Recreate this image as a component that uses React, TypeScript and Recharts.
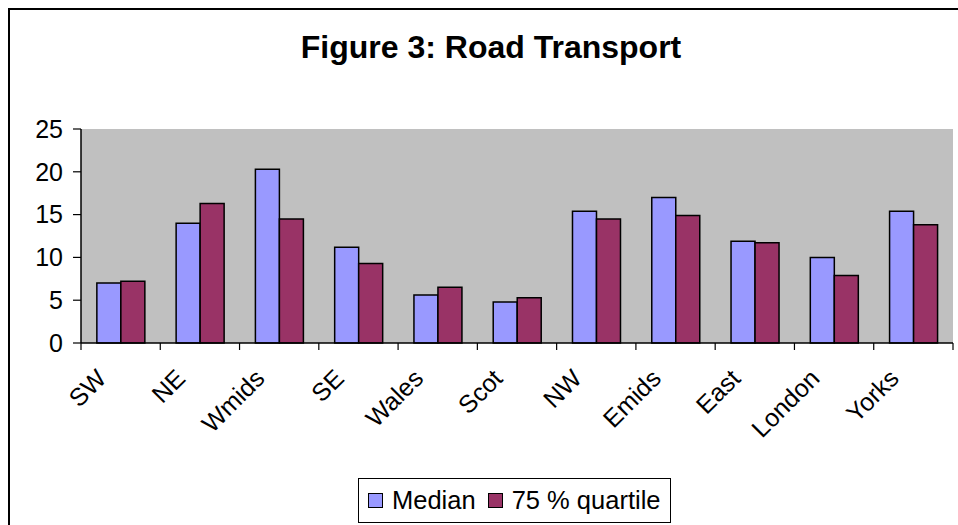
import React from 'react';
import { BarChart, Bar, XAxis, YAxis, CartesianGrid } from 'recharts';

const categories = ['SW', 'NE', 'Wmids', 'SE', 'Wales', 'Scot', 'NW', 'Emids', 'East', 'London', 'Yorks'];
const medianValues = [7.0, 14.0, 20.3, 11.2, 5.6, 4.8, 15.4, 17.0, 11.9, 10.0, 15.4];
const quartileValues = [7.2, 16.3, 14.5, 9.3, 6.5, 5.3, 14.5, 14.9, 11.7, 7.9, 13.8];
const yTicks = [0, 5, 10, 15, 20, 25];
const seriesNames = ['Median', '75 % quartile'];
const seriesColors = ['#9999FF', '#993366'];
const titleText = 'Figure 3: Road Transport';

const data = categories.map((c, i) => ({ name: c, median: medianValues[i], q75: quartileValues[i] }));

const FONT = '"Liberation Sans", Arial, Helvetica, sans-serif';

const XTick = (props: any) => {
  const { x, y, payload, index } = props;
  const half = payload && typeof payload.offset === 'number' && payload.offset > 0 ? payload.offset : 872 / 22;
  const lx = x - 13;
  const ly = y + 30;
  return (
    <g>
      <line x1={x - half} x2={x - half} y1={y - 7} y2={y} stroke="#000" strokeWidth={1.2} />
      {index === categories.length - 1 && (
        <line x1={x + half} x2={x + half} y1={y - 7} y2={y} stroke="#000" strokeWidth={1.2} />
      )}
      <text
        x={lx}
        y={ly}
        textAnchor="end"
        fontFamily={FONT}
        fontSize={25}
        fill="#000"
        transform={`rotate(-45, ${lx}, ${ly})`}
      >
        {payload.value}
      </text>
    </g>
  );
};

export default function App() {
  return (
    <div
      style={{
        position: 'absolute',
        left: 0,
        top: 0,
        width: 958,
        height: 525,
        overflow: 'hidden',
        background: '#fff',
        fontFamily: FONT,
      }}
    >
      <div
        style={{
          position: 'absolute',
          left: 8,
          top: 8,
          width: 1200,
          height: 800,
          border: '2px solid #000',
          boxSizing: 'border-box',
        }}
      />
      <div
        style={{
          position: 'absolute',
          left: 0,
          top: 31,
          width: 982,
          textAlign: 'center',
          fontSize: 32,
          lineHeight: '32px',
          fontWeight: 'bold',
          color: '#000',
          whiteSpace: 'nowrap',
        }}
      >
        {titleText}
      </div>
      <div style={{ position: 'absolute', left: 0, top: 0 }}>
        <BarChart
          width={958}
          height={525}
          data={data}
          margin={{ top: 129, right: 5, bottom: 82, left: 10 }}
          barCategoryGap="20%"
          barGap={0}
        >
          <CartesianGrid horizontal={false} vertical={false} fill="#C0C0C0" xAxisId="main" yAxisId="main" />
          <XAxis
            xAxisId="top"
            dataKey="name"
            orientation="top"
            height={0}
            tick={false}
            tickLine={false}
            axisLine={{ stroke: '#808080', strokeWidth: 1.5 }}
          />
          <YAxis
            yAxisId="right"
            orientation="right"
            width={0}
            domain={[0, 25]}
            ticks={yTicks}
            tick={false}
            tickLine={false}
            axisLine={{ stroke: '#808080', strokeWidth: 1.5 }}
          />
          <XAxis
            xAxisId="main"
            dataKey="name"
            height={100}
            interval={0}
            tickLine={false}
            tickSize={7}
            tickMargin={0}
            axisLine={{ stroke: '#000', strokeWidth: 1.5 }}
            tick={<XTick />}
          />
          <YAxis
            yAxisId="main"
            width={71}
            domain={[0, 25]}
            ticks={yTicks}
            interval={0}
            tickSize={8}
            tickMargin={10}
            tickLine={{ stroke: '#000', strokeWidth: 1.2 }}
            axisLine={{ stroke: '#000', strokeWidth: 1.5 }}
            tick={{ fill: '#000', fontSize: 25, fontFamily: FONT }}
          />
          <Bar
            xAxisId="main"
            yAxisId="main"
            dataKey="median"
            name={seriesNames[0]}
            fill={seriesColors[0]}
            stroke="#000"
            strokeWidth={1.5}
            isAnimationActive={false}
          />
          <Bar
            xAxisId="main"
            yAxisId="main"
            dataKey="q75"
            name={seriesNames[1]}
            fill={seriesColors[1]}
            stroke="#000"
            strokeWidth={1.5}
            isAnimationActive={false}
          />
        </BarChart>
      </div>
      <div
        style={{
          position: 'absolute',
          left: 358,
          top: 478,
          width: 313,
          height: 45,
          border: '1px solid #000',
          boxSizing: 'border-box',
          background: '#fff',
          display: 'flex',
          alignItems: 'center',
          paddingLeft: 9,
          fontSize: 25.5,
          color: '#000',
          whiteSpace: 'nowrap',
        }}
      >
        {seriesNames.map((n, i) => (
          <div key={n} style={{ display: 'flex', alignItems: 'center', marginRight: 12 }}>
            <div
              style={{
                width: 15,
                height: 15,
                background: seriesColors[i],
                border: '1.5px solid #000',
                boxSizing: 'border-box',
                marginRight: 9,
              }}
            />
            <span>{n}</span>
          </div>
        ))}
      </div>
    </div>
  );
}
